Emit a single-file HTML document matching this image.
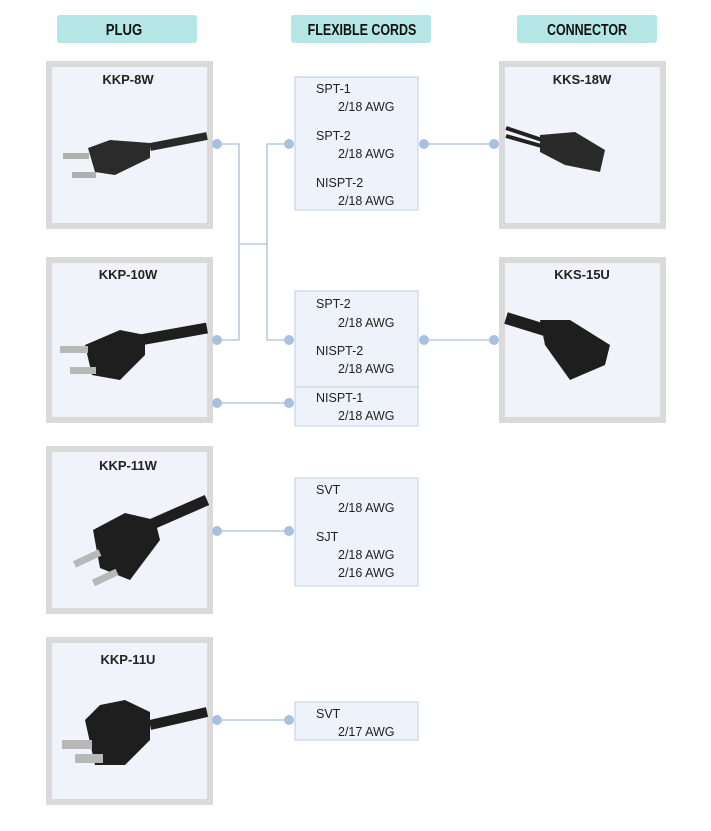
<!DOCTYPE html>
<html><head><meta charset="utf-8"><style>
html,body{margin:0;padding:0;background:#fff;}
svg text{font-family:"Liberation Sans",sans-serif;}
</style></head><body>
<svg width="711" height="826" viewBox="0 0 711 826" xmlns="http://www.w3.org/2000/svg">
<rect width="711" height="826" fill="#ffffff"/>
<g fill="#b4e6e6">
<rect x="57" y="15" width="140" height="28" rx="3"/>
<rect x="291" y="15" width="140" height="28" rx="3"/>
<rect x="517" y="15" width="140" height="28" rx="3"/>
</g>
<g font-weight="bold" font-size="16" fill="#111" text-anchor="middle">
<text transform="translate(124,35) scale(0.82,1)">PLUG</text>
<text transform="translate(362,35) scale(0.78,1)">FLEXIBLE CORDS</text>
<text transform="translate(587,35) scale(0.78,1)">CONNECTOR</text>
</g>
<g fill="#f0f3f9" stroke="#dadada" stroke-width="6">
<rect x="49" y="64" width="161" height="162"/>
<rect x="49" y="260" width="161" height="160"/>
<rect x="49" y="449" width="161" height="162"/>
<rect x="49" y="640" width="161" height="162"/>
<rect x="502" y="64" width="161" height="162"/>
<rect x="502" y="260" width="161" height="160"/>
</g>
<g font-weight="bold" font-size="13" fill="#222" text-anchor="middle">
<text x="128" y="84">KKP-8W</text>
<text x="128" y="279">KKP-10W</text>
<text x="128" y="470">KKP-11W</text>
<text x="128" y="664">KKP-11U</text>
<text x="582" y="84">KKS-18W</text>
<text x="582" y="279">KKS-15U</text>
</g>
<g>
<path d="M207 136 L150 147" stroke="#2a2a2a" stroke-width="8"/>
<path d="M88 148 L110 140 L150 143 L150 158 L115 175 L95 172 Z" fill="#2b2b2b"/>
<rect x="63" y="153" width="26" height="6" fill="#b0b0b0"/>
<rect x="72" y="172" width="24" height="6" fill="#b0b0b0"/>
<path d="M207 328 L140 340" stroke="#1e1e1e" stroke-width="11"/>
<path d="M85 345 L120 330 L145 335 L145 355 L120 380 L92 375 Z" fill="#1e1e1e"/>
<rect x="60" y="346" width="28" height="7" fill="#b8b8b8"/>
<rect x="70" y="367" width="26" height="7" fill="#b8b8b8"/>
<path d="M207 500 L150 525" stroke="#1e1e1e" stroke-width="11"/>
<path d="M93 530 L125 513 L155 520 L160 540 L130 580 L100 568 Z" fill="#1e1e1e"/>
<rect x="73" y="555" width="28" height="7" fill="#b8b8b8" transform="rotate(-25 87 558)"/>
<rect x="92" y="574" width="26" height="7" fill="#b8b8b8" transform="rotate(-25 105 577)"/>
<path d="M207 712 L150 725" stroke="#1e1e1e" stroke-width="10"/>
<path d="M85 720 L100 705 L125 700 L150 712 L150 740 L125 765 L95 765 Z" fill="#1e1e1e"/>
<rect x="62" y="740" width="30" height="9" fill="#b8b8b8"/>
<rect x="75" y="754" width="28" height="9" fill="#b8b8b8"/>
<path d="M506 128 L545 141" stroke="#222" stroke-width="4"/>
<path d="M506 136 L545 147" stroke="#222" stroke-width="4"/>
<path d="M540 135 L575 132 L605 150 L600 172 L565 165 L540 152 Z" fill="#2a2a2a"/>
<path d="M506 318 L545 330" stroke="#1e1e1e" stroke-width="12"/>
<path d="M540 320 L570 320 L610 345 L605 365 L570 380 L545 345 Z" fill="#1e1e1e"/>
</g>
<g fill="#eef2fa" stroke="#c9d5ea" stroke-width="1.2">
<rect x="295" y="77" width="123" height="133"/>
<rect x="295" y="291" width="123" height="96"/>
<rect x="295" y="387" width="123" height="39"/>
<rect x="295" y="478" width="123" height="108"/>
<rect x="295" y="702" width="123" height="38"/>
</g>
<g font-size="12.5" fill="#222">
<text x="316" y="93">SPT-1</text><text x="338" y="111">2/18 AWG</text>
<text x="316" y="140">SPT-2</text><text x="338" y="158">2/18 AWG</text>
<text x="316" y="187">NISPT-2</text><text x="338" y="205">2/18 AWG</text>
<text x="316" y="308">SPT-2</text><text x="338" y="327">2/18 AWG</text>
<text x="316" y="355">NISPT-2</text><text x="338" y="373">2/18 AWG</text>
<text x="316" y="402">NISPT-1</text><text x="338" y="420">2/18 AWG</text>
<text x="316" y="494">SVT</text><text x="338" y="512">2/18 AWG</text>
<text x="316" y="541">SJT</text><text x="338" y="559">2/18 AWG</text><text x="338" y="577">2/16 AWG</text>
<text x="316" y="718">SVT</text><text x="338" y="736">2/17 AWG</text>
</g>
<g stroke="#a9c0e0" stroke-width="1.3" fill="none">
<path d="M217 144 H239 V340 H217"/>
<path d="M239 244 H267"/>
<path d="M289 144 H267 V340 H289"/>
<path d="M217 403 H289"/>
<path d="M217 531 H289"/>
<path d="M217 720 H289"/>
<path d="M424 144 H494"/>
<path d="M424 340 H494"/>
</g>
<g fill="#a9c0e0">
<circle cx="217" cy="144" r="5"/><circle cx="217" cy="340" r="5"/><circle cx="217" cy="403" r="5"/><circle cx="217" cy="531" r="5"/><circle cx="217" cy="720" r="5"/>
<circle cx="289" cy="144" r="5"/><circle cx="289" cy="340" r="5"/><circle cx="289" cy="403" r="5"/><circle cx="289" cy="531" r="5"/><circle cx="289" cy="720" r="5"/>
<circle cx="424" cy="144" r="5"/><circle cx="424" cy="340" r="5"/><circle cx="494" cy="144" r="5"/><circle cx="494" cy="340" r="5"/>
</g>
</svg>
</body></html>
